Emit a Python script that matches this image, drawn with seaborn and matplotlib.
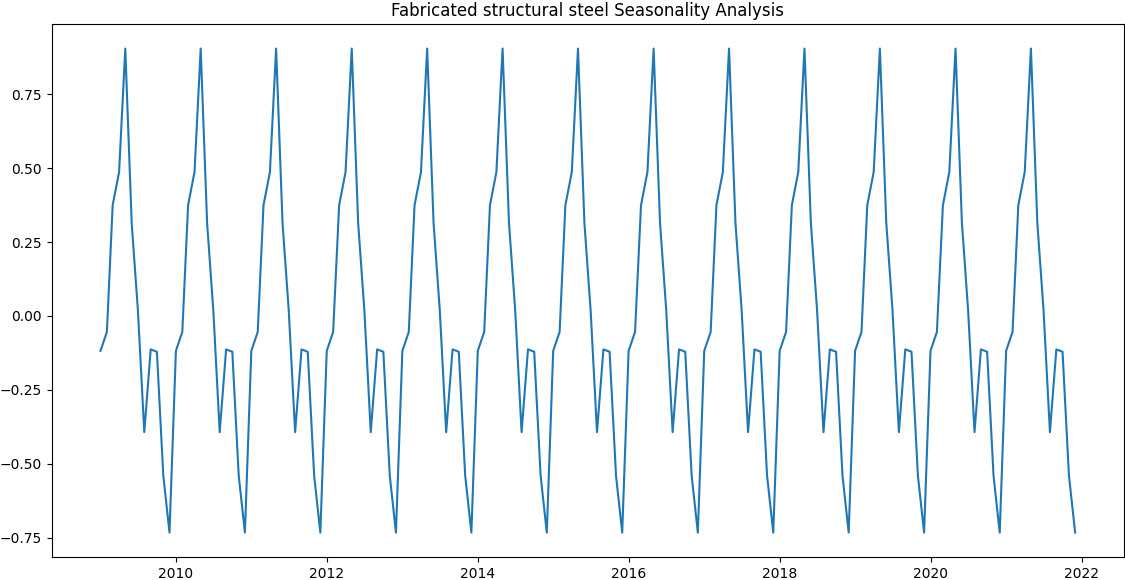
import numpy as np
import pandas as pd
import matplotlib
matplotlib.use("Agg")
import matplotlib.pyplot as plt
import seaborn as sns

# Monthly seasonal component (Jan..Dec), repeated each year
seasonal_pattern = [-0.118, -0.054, 0.375, 0.487, 0.905, 0.315,
                    0.02, -0.393, -0.113, -0.121, -0.54, -0.733]
start_month = "2009-01-01"
n_years = 13
title = "Fabricated structural steel Seasonality Analysis"

dates = pd.date_range(start_month, periods=12 * n_years, freq="MS")
values = np.tile(seasonal_pattern, n_years)
df = pd.DataFrame({"date": dates, "seasonal": values})

fig, ax = plt.subplots(figsize=(11.25, 5.8), dpi=100)
fig.subplots_adjust(left=0.046, right=0.999, top=0.958, bottom=0.04)
sns.lineplot(data=df, x="date", y="seasonal", ax=ax, color="#1f77b4", linewidth=1.5)
ax.set_title(title, fontsize=12)
ax.set_xlabel("")
ax.set_ylabel("")
fig.savefig("out.png", dpi=100)
